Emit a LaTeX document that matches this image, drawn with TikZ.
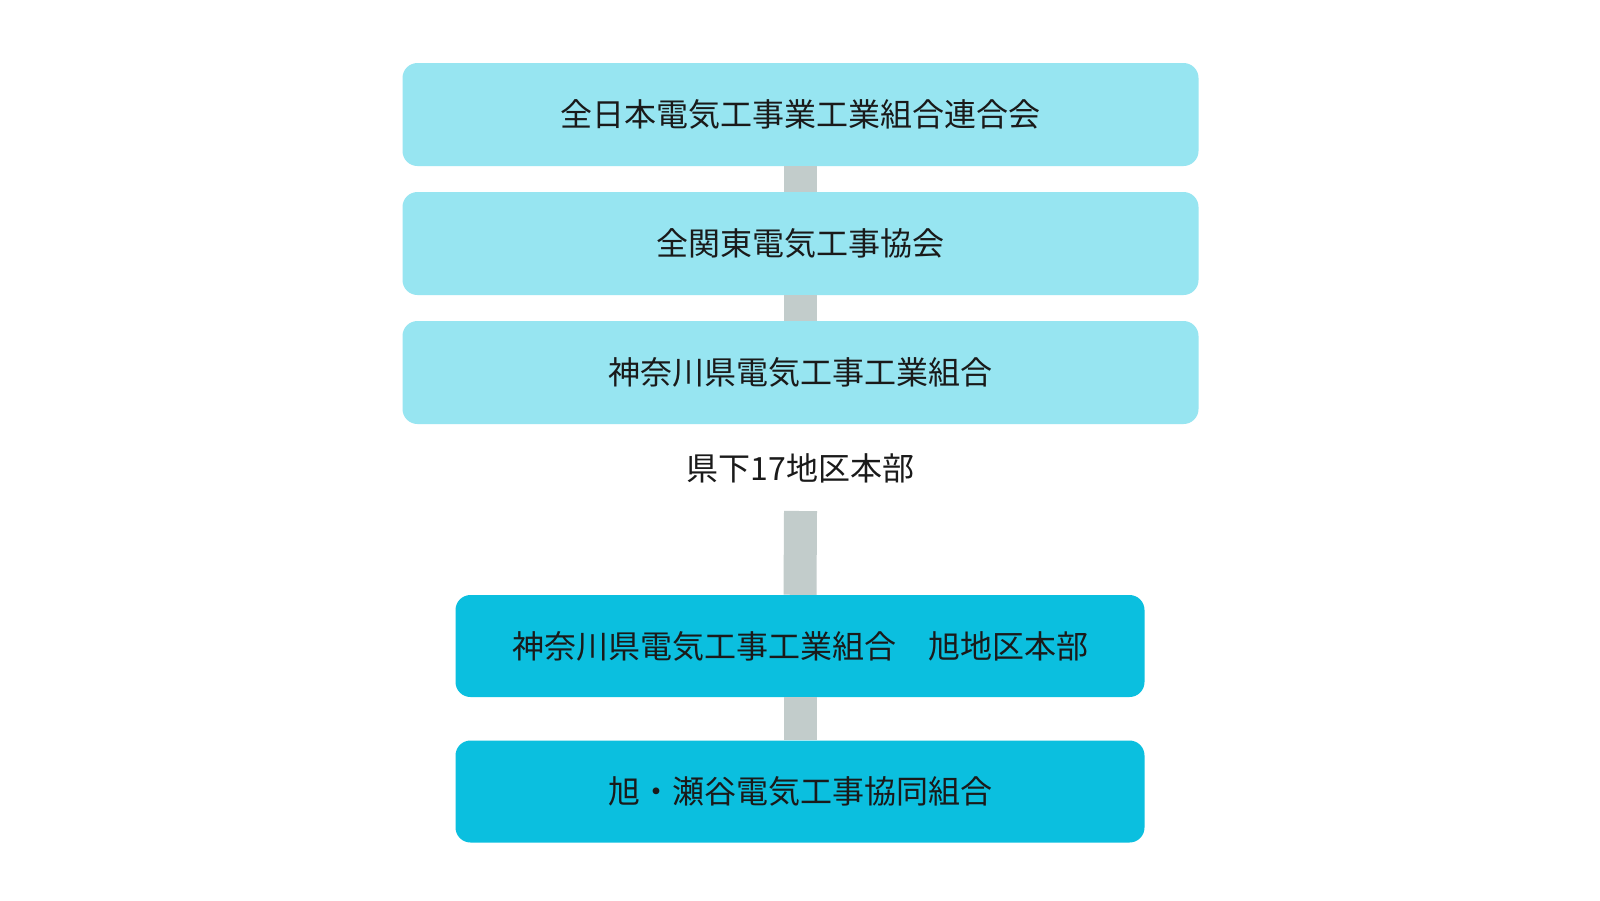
\documentclass[tikz,border=0pt]{standalone}
\usepackage{fontspec}
\setmainfont{Noto Sans CJK JP}
\definecolor{lightbox}{HTML}{97E5F1}
\definecolor{darkbox}{HTML}{0BBFDF}
\definecolor{barcol}{HTML}{C2CCCB}
\definecolor{txt}{HTML}{1A1A1A}
\begin{document}
\begin{tikzpicture}[x=1pt,y=-1pt,
  boxbase/.style={rounded corners=15pt, inner sep=0pt, text=txt, font=\fontsize{32}{38}\selectfont},
  upperbox/.style={boxbase, fill=lightbox, minimum width=796pt, minimum height=103pt},
  lowerbox/.style={boxbase, fill=darkbox, minimum width=689pt, minimum height=102pt},
  barline/.style={draw=barcol, line width=33pt},
  plainlabel/.style={text=txt, font=\fontsize{32}{38}\selectfont, inner sep=0pt}]
\useasboundingbox (0,0) rectangle (1600,900);
\fill[white] (0,0) rectangle (1600,900);
\node[upperbox] (b1) at (800.5,114.5) {全日本電気工事業工業組合連合会};
\node[upperbox] (b2) at (800.5,243.5) {全関東電気工事協会};
\node[upperbox] (b3) at (800.5,372.5) {神奈川県電気工事工業組合};
\node[plainlabel] (lab) at (800.5,468) {県下17地区本部};
\coordinate (barstart) at (800.5,511);
\node[lowerbox] (b4) at (800,646) {神奈川県電気工事工業組合　旭地区本部};
\node[lowerbox] (b5) at (800,791.5) {旭・瀬谷電気工事協同組合};
\draw[barline] (b1.south) -- (b2.north);
\draw[barline] (b2.south) -- (b3.north);
\draw[barline] (barstart) -- (b4.north);
\draw[barline] (b4.south) -- (b5.north);
\end{tikzpicture}
\end{document}
